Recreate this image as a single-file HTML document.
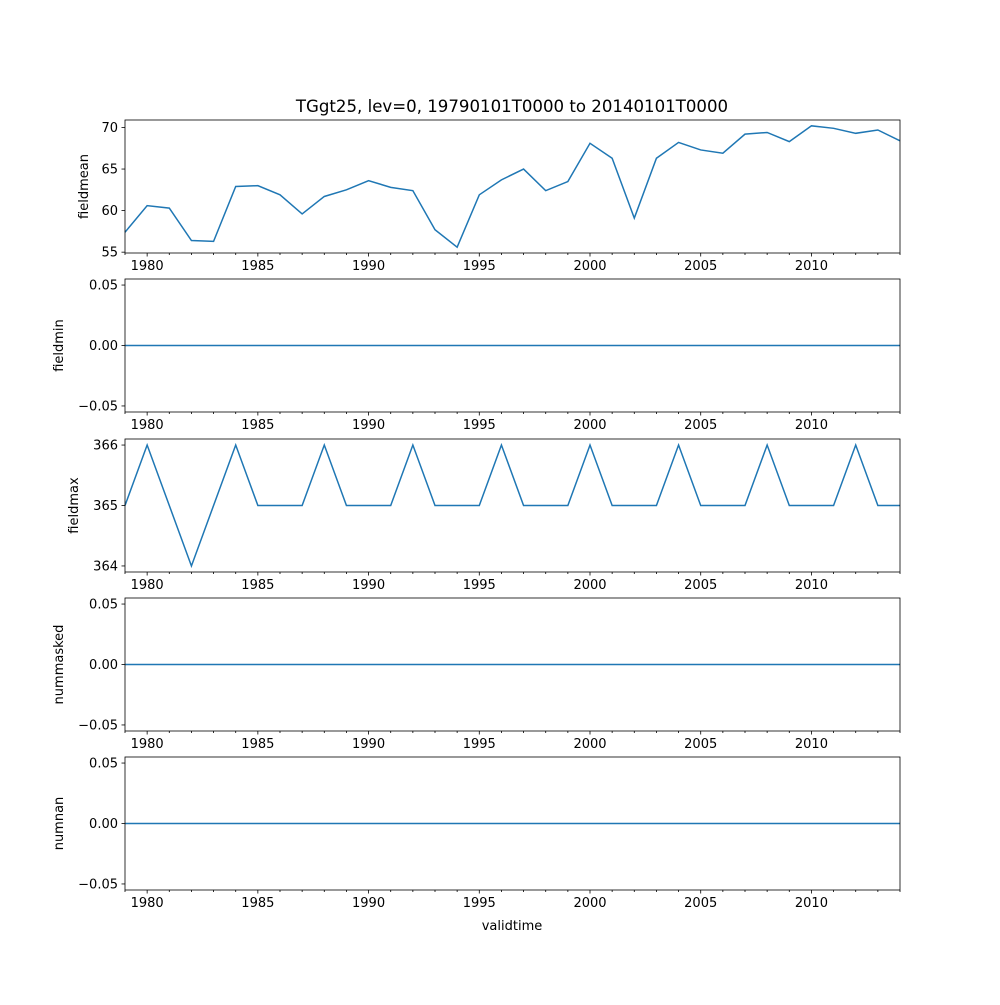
<!DOCTYPE html>
<html><head><meta charset="utf-8"><style>
body{margin:0;background:#fff;}
svg text{font-family:"DejaVu Sans","Liberation Sans",sans-serif;font-size:13px;fill:#000;}
</style></head><body>
<svg id="chart" width="1000" height="1000">
<text x="512" y="112" text-anchor="middle" style="font-size:16.6px">TGgt25, lev=0, 19790101T0000 to 20140101T0000</text>
<text x="512" y="930" text-anchor="middle">validtime</text>
</svg>
<script>
const years = [1979,1980,1981,1982,1983,1984,1985,1986,1987,1988,1989,1990,1991,1992,1993,1994,1995,1996,1997,1998,1999,2000,2001,2002,2003,2004,2005,2006,2007,2008,2009,2010,2011,2012,2013,2014];
const fieldmean = [57.4,60.6,60.3,56.4,56.3,62.9,63.0,61.9,59.6,61.7,62.5,63.6,62.8,62.4,57.7,55.6,61.9,63.7,65.0,62.4,63.5,68.1,66.3,59.1,66.3,68.2,67.3,66.9,69.2,69.4,68.3,70.2,69.9,69.3,69.7,68.4];
const fieldmin = years.map(()=>0);
const fieldmax = [365,366,365,364,365,366,365,365,365,366,365,365,365,366,365,365,365,366,365,365,365,366,365,365,365,366,365,365,365,366,365,365,365,366,365,365];
const nummasked = years.map(()=>0);
const numnan = years.map(()=>0);
const xTicks = [1980,1985,1990,1995,2000,2005,2010];
const panels = [
 {name:'fieldmean',vals:fieldmean,top:120,ymin:54.9,ymax:70.9,ticks:[55,60,65,70],fmt:v=>String(v)},
 {name:'fieldmin',vals:fieldmin,top:279,ymin:-0.055,ymax:0.055,ticks:[-0.05,0,0.05],fmt:v=>v<0?'−'+Math.abs(v).toFixed(2):v.toFixed(2)},
 {name:'fieldmax',vals:fieldmax,top:439,ymin:363.9,ymax:366.1,ticks:[364,365,366],fmt:v=>String(v)},
 {name:'nummasked',vals:nummasked,top:598,ymin:-0.055,ymax:0.055,ticks:[-0.05,0,0.05],fmt:v=>v<0?'−'+Math.abs(v).toFixed(2):v.toFixed(2)},
 {name:'numnan',vals:numnan,top:757,ymin:-0.055,ymax:0.055,ticks:[-0.05,0,0.05],fmt:v=>v<0?'−'+Math.abs(v).toFixed(2):v.toFixed(2)}
];
const svg=document.getElementById('chart');
const NS='http://www.w3.org/2000/svg';
const L=125,R=900,H=133;
const xs=y=>L+(y-1979)/(2014-1979)*(R-L);
function mk(t,a,p){const e=document.createElementNS(NS,t);for(const k in a)e.setAttribute(k,a[k]);(p||svg).appendChild(e);return e;}
panels.forEach(p=>{
 const g=mk('g',{});
 
 
 const ys=v=>p.top+H-(v-p.ymin)/(p.ymax-p.ymin)*H;
 const d=years.map((y,i)=>(i?'L':'M')+xs(y).toFixed(2)+','+ys(p.vals[i]).toFixed(2)).join('');
 const line=mk('path',{d:d,fill:'none',stroke:'#1f77b4','stroke-width':1.5},g);
 
 
 const fr=mk('rect',{x:L,y:p.top,width:R-L,height:H,fill:'none',stroke:'#000','stroke-width':0.8},g);
 
 
 years.forEach(y=>{const maj=xTicks.includes(y);mk('line',{x1:xs(y),x2:xs(y),y1:p.top+H,y2:p.top+H+(maj?3.5:2),stroke:'#000','stroke-width':0.8},g);});
 xTicks.forEach(y=>{const t=mk('text',{x:xs(y),y:p.top+H+17,'text-anchor':'middle'},g);t.textContent=y;
  
  });
 p.ticks.forEach(v=>{mk('line',{x1:L-3.5,x2:L,y1:ys(v),y2:ys(v),stroke:'#000','stroke-width':0.8},g);
  const t=mk('text',{x:L-7,y:ys(v)+4.5,'text-anchor':'end'},g);t.textContent=p.fmt(v);
  
  });
 const yl=p.name==='fieldmean'?88:(p.name==='fieldmax'?78:63);
 const t=mk('text',{x:0,y:0,'text-anchor':'middle',transform:`translate(${yl},${p.top+H/2}) rotate(-90)`},g);t.textContent=p.name;
 
 
});
</script>
</body></html>
